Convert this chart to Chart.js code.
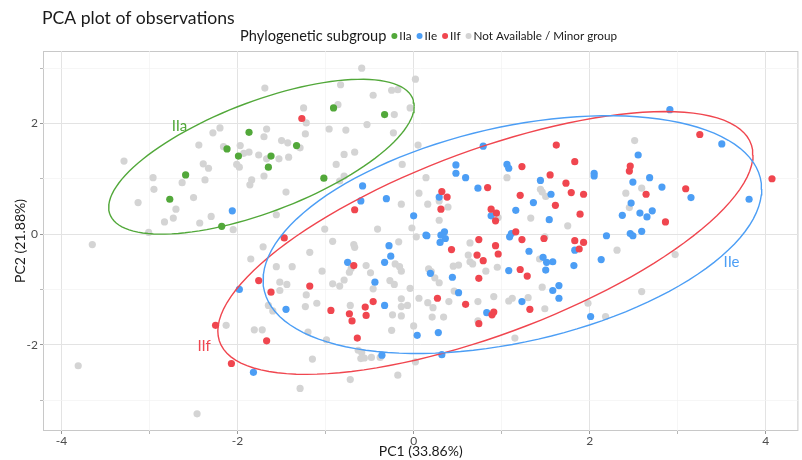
<!DOCTYPE html>
<html>
<head>
<meta charset="utf-8">
<script src="https://cdn.jsdelivr.net/npm/chart.js@4.4.0/dist/chart.umd.min.js"></script>
<style>
  html, body { margin: 0; padding: 0; background: #fff; }
  #wrap { width: 802px; height: 460px; }
</style>
</head>
<body>
<div id="wrap"><canvas id="pcaChart" width="802" height="460"></canvas></div>
<script>
// groups and colours
const groupNames = ['IIa', 'IIe', 'IIf', 'Not Available / Minor group'];
const groupColors = ['#52a83a', '#4c9ef5', '#f0464f', '#d4d4d4'];

// IIa
const iiaX = [-2.12, -1.99, -2.59, -2.77, -2.18, -0.91, -0.33, -1.87, -1.33, -1.62, -1.65, -1.02];
const iiaY = [1.54, 1.41, 1.07, 0.63, 0.14, 2.28, 2.16, 1.84, 1.60, 1.41, 1.21, 1.01];

// IIe
const iieX = [-2.06, -0.58, -0.60, -0.31, 0.00, 0.14, -0.28, -0.26, 0.79, 0.48, 0.48, 0.59, 1.06, 1.08, 2.05, 2.05, 1.44, 0.73,
  1.56, 1.36, 0.29, 0.88, 1.16, 1.54, 0.15, 0.35, 0.31, 0.36, 0.30, 1.11, 1.09, 2.19, 2.91, 3.50, 2.55, 2.68, 2.49, 2.82, 3.15, 3.81,
  2.47, 2.37, 2.57, 2.71, 2.65, 2.59, 2.46, 2.49, -1.98, -0.75, -0.33, -0.44, -1.45, -0.33, 0.04, -0.36, -1.82,
  1.31, 1.83, 1.47, 1.51, 1.58, 1.50, 1.82, 2.13, 0.19, 1.08, 0.44, 0.51, 1.65, 1.58, 1.65, 1.23, 0.83, 0.28, 2.01, 0.32];
const iieY = [0.42, 0.87, 0.60, 0.64, 0.33, -0.02, -0.21, -0.40, 1.59, 1.25, 1.10, 1.02, 1.26, 1.19, 1.10, 1.05, 0.97, 0.83,
  0.72, 0.57, 0.67, 0.33, 0.43, 0.26, -0.03, 0.04, -0.02, -0.08, -0.15, 0.01, -0.05, -0.03, 2.25, 1.63, 1.43, 1.02, 0.94, 0.85, 0.66, 0.63,
  0.56, 0.34, 0.38, 0.42, 0.31, 0.05, 0.01, -0.03, -1.00, -0.51, -0.51, -0.87, -1.36, -1.29, -1.83, -2.19, -2.50,
  -0.31, -0.29, -0.42, -0.51, -0.50, -0.65, -0.57, -0.46, -0.71, -0.66, -0.78, -1.06, -0.93, -1.02, -1.16, -1.22, -1.42, -1.78, -1.49, -2.18];

// IIf
const iifX = [-1.27, -0.67, -1.47, 1.62, 1.83, 1.23, 1.55, 1.73, 0.84, 1.79, 1.93, 1.21, 1.61,
  0.32, 0.38, 0.31, 0.88, 0.94, 0.93, 1.89, 0.74, 0.93, 1.16, 1.23, 1.48, 1.83, 1.93,
  3.25, 2.46, 2.45, 4.07, 2.64, 3.09, 2.86,
  -2.25, -2.07, -0.68, -1.76, -1.62, -1.18, -0.94, -0.73, -0.70, -0.55, -0.46, -0.54, -1.67, -0.64,
  0.43, 0.96, 1.88, 0.72, 0.79, 1.21, 1.29, 0.74, 0.27, 0.59, 1.32, 0.89, 0.91, 0.74];
const iifY = [2.09, 0.44, -0.07, 1.61, 1.31, 1.22, 1.07, 0.92, 0.84, 0.75, 0.72, 0.70, 0.52,
  0.77, 0.67, 0.45, 0.45, 0.38, 0.24, 0.36, -0.10, -0.21, 0.04, -0.10, -0.08, -0.12, -0.15,
  1.80, 1.23, 1.14, 1.00, 0.72, 0.82, 0.22,
  -1.65, -2.34, -0.57, -0.84, -1.05, -0.94, -1.38, -1.44, -1.57, -1.32, -1.22, -1.47, -1.93, -1.88,
  -0.28, -0.36, -0.27, -0.38, -0.48, -0.64, -0.76, -0.80, -1.16, -1.27, -1.36, -1.46, -1.41, -1.62];

// Not available / minor group
const naX = [-3.29, -2.20, -2.28, -2.44, -2.16, -2.01, -1.98, -2.39, -2.33, -2.96, -2.63, -2.37, -2.95, -3.13, -2.50, -2.70, -2.73, -2.83, -2.43, -2.30, -2.05, -3.01, -3.65,
  -0.59, 0.02, -1.69, -0.83, -0.25, -0.18, -0.46, -0.86, -1.25, -0.04, -0.22, -1.22, -0.53, -1.67, -1.70, -1.23, -0.96, -0.77, -0.23, -1.97,
  -1.50, -1.43, -1.29, -1.87, -1.93, -1.76, -1.67, -1.53, -1.42, -0.79, -0.67, 0.05, -0.88, -0.13, -1.70, -1.84, -1.86, 0.14, -0.79, -0.84,
  -1.45, -0.14, 0.06, -1.56, -0.41, -0.02, -1.01, 0.03, -0.92, -0.68, -0.67, -0.17,
  1.06, 1.44, 1.46, 1.50, 0.29, 0.16, 0.39, 0.29, 0.96, 1.33, 1.75, 0.64, 1.49,
  2.51, 2.41, 2.59, 2.45,
  -2.13, -3.81, -2.46,
  -1.71, -1.18, -1.85, -1.56, -1.38, -0.71, -0.73, -0.54, -0.49, -0.21, -0.16, -0.14, -1.04, -1.52, -1.44, -1.52, -0.92, -0.79, -0.84, -0.27,
  -0.22, -0.46, -0.04, -1.22, -1.65, -1.60, -1.23, -1.10, -0.72, -0.24, -0.14, -0.14, -0.07, -0.14, 0.06, -1.81, -1.72, -1.20, -0.99, -0.25,
  0.00, -0.63, -0.59, -0.60, -0.56, -0.48, -0.38, -1.15, 0.02, -0.72, -0.18, -1.29,
  0.62, 0.64, 0.67, 0.45, 0.51, 0.17, 0.20, 0.82, 0.95, 1.43, 2.31, 0.24, 0.29, 0.46, 1.46, 0.16, 0.22, 0.40, 0.73, 0.91,
  1.08, 1.12, 1.30, 1.49, 0.21, 0.34, 0.73, 1.98, 2.18, 1.15, 2.97, 2.59];
const naY = [1.32, 1.92, 1.83, 1.61, 1.58, 1.26, 1.21, 1.27, 1.19, 1.02, 0.93, 0.98, 0.81, 0.57, 0.66, 0.45, 0.29, 0.22, 0.20, 0.32, 0.08, 0.03, -0.19,
  3.00, 2.80, 2.64, 2.70, 2.60, 2.61, 2.51, 2.34, 2.28, 2.28, 2.16, 2.01, 1.98, 1.90, 1.76, 1.81, 1.90, 1.88, 1.83, 1.60,
  1.69, 1.65, 1.56, 1.48, 1.46, 1.43, 1.36, 1.36, 1.39, 1.44, 1.48, 1.61, 1.26, 1.26, 1.05, 0.98, 0.89, 1.02, 1.05, 0.96,
  0.76, 0.54, 0.74, 0.35, 0.09, 0.11, 0.09, -0.05, -0.13, -0.19, -0.24, -0.14,
  1.02, 0.81, 0.76, 0.68, 0.60, 0.54, 0.49, 0.25, 0.30, 0.29, 0.15, -0.16, -0.05,
  1.69, 0.74, 0.83, 0.48,
  -1.65, -2.38, -3.25,
  -0.23, -0.33, -0.45, -0.59, -0.59, -0.62, -0.69, -0.57, -0.70, -0.54, -0.59, -0.67, -0.67, -0.87, -0.91, -1.02, -0.90, -0.83, -0.94, -0.84,
  -0.91, -0.99, -0.98, -1.10, -1.29, -1.39, -1.31, -1.25, -1.29, -1.46, -1.17, -1.31, -1.29, -1.48, -1.16, -1.73, -1.73, -1.77, -1.91, -1.74,
  -1.66, -2.10, -2.14, -2.25, -2.24, -2.23, -2.23, -2.26, -2.31, -2.63, -2.55, -2.79,
  -0.38, -0.50, -0.54, -0.58, -0.56, -0.63, -0.68, -0.67, -0.60, -0.45, -0.29, -0.79, -0.88, -1.03, -0.96, -1.24, -1.33, -1.22, -1.22, -1.13,
  -1.21, -1.16, -1.15, -1.35, -1.50, -1.50, -1.57, -1.25, -1.49, -1.88, -0.37, -1.04];

// ellipse labels (data coords)
const ellipseLabels = ['IIa', 'IIe', 'IIf'];
const ellipseLabelX = [-2.66, 3.61, -2.38];
const ellipseLabelY = [1.95, -0.51, -2.02];

const xTicks = [-4, -2, 0, 2, 4];
const yTicks = [-2, 0, 2];

function toPoints(xs, ys) {
  return xs.map((x, i) => ({ x: x, y: ys[i] }));
}

// robust multivariate-t location/scatter (same idea as MASS::cov.trob, nu = 5)
function covTrob(xs, ys) {
  const n = xs.length, p = 2, nu = 5;
  let lx = xs.reduce((a, b) => a + b, 0) / n;
  let ly = ys.reduce((a, b) => a + b, 0) / n;
  let w = new Array(n).fill(1);
  let dx = [], dy = [];
  for (let iter = 0; iter < 25; iter++) {
    const w0 = w.slice();
    dx = xs.map(v => v - lx);
    dy = ys.map(v => v - ly);
    const sw = w.reduce((a, b) => a + b, 0);
    let a = 0, b = 0, c = 0;
    for (let i = 0; i < n; i++) {
      a += w[i] * dx[i] * dx[i];
      b += w[i] * dx[i] * dy[i];
      c += w[i] * dy[i] * dy[i];
    }
    a /= sw; b /= sw; c /= sw;
    const det = a * c - b * b;
    w = dx.map((_, i) => (nu + p) / (nu + (c * dx[i] * dx[i] - 2 * b * dx[i] * dy[i] + a * dy[i] * dy[i]) / det));
    const sw2 = w.reduce((s, v) => s + v, 0);
    lx = xs.reduce((s, v, i) => s + w[i] * v, 0) / sw2;
    ly = ys.reduce((s, v, i) => s + w[i] * v, 0) / sw2;
    if (w.every((v, i) => Math.abs(v - w0[i]) < 0.01)) break;
  }
  let sxx = 0, sxy = 0, syy = 0;
  for (let i = 0; i < n; i++) {
    sxx += w[i] * dx[i] * dx[i];
    sxy += w[i] * dx[i] * dy[i];
    syy += w[i] * dy[i] * dy[i];
  }
  return { cx: lx, cy: ly, sxx: sxx / n, sxy: sxy / n, syy: syy / n };
}

// 95% t-ellipse, like stat_ellipse(type = "t")
function ellipsePoints(xs, ys) {
  const v = covTrob(xs, ys);
  const d2 = xs.length - 1;
  const qf = (d2 / 2) * (Math.pow(0.05, -2 / d2) - 1); // F(0.95; 2, n-1)
  const r = Math.sqrt(2 * qf);
  const a = Math.sqrt(v.sxx), b = v.sxy / a, c = Math.sqrt(v.syy - b * b);
  const pts = [];
  for (let k = 0; k <= 120; k++) {
    const t = 2 * Math.PI * k / 120;
    const u = Math.cos(t), s = Math.sin(t);
    pts.push({ x: v.cx + r * a * u, y: v.cy + r * (b * u + c * s) });
  }
  return pts;
}

const font = 'Lato, "Open Sans", sans-serif';

function pointSet(label, xs, ys, color, order) {
  return {
    type: 'scatter', label: label, data: toPoints(xs, ys),
    backgroundColor: color, borderColor: color, borderWidth: 0,
    pointRadius: 3.6, pointHoverRadius: 3.6, order: order
  };
}
function ellipseSet(label, xs, ys, color) {
  return {
    type: 'line', label: label + ' ellipse', data: ellipsePoints(xs, ys),
    borderColor: color, borderWidth: 1.4, pointRadius: 0, fill: false,
    tension: 0, order: 0
  };
}

// title, legend, panel border and ellipse names
const decorPlugin = {
  id: 'decor',
  beforeDraw(chart) {
    const ctx = chart.ctx, a = chart.chartArea;
    ctx.save();
    ctx.strokeStyle = '#c8c8c8';
    ctx.lineWidth = 1;
    ctx.strokeRect(a.left + 0.5, a.top + 0.5, a.right - a.left - 1, a.bottom - a.top - 1);
    ctx.restore();
  },
  afterDraw(chart) {
    const ctx = chart.ctx;
    ctx.save();
    ctx.fillStyle = '#1a1a1a';
    ctx.font = '17.6px ' + font;
    ctx.textBaseline = 'middle';
    ctx.textAlign = 'left';
    ctx.fillText('PCA plot of observations', 42, 18);

    // legend row
    const legTitle = 'Phylogenetic subgroup';
    ctx.font = '14.6px ' + font;
    const tW = ctx.measureText(legTitle).width;
    ctx.font = '11.7px ' + font;
    const itemW = groupNames.map(g => ctx.measureText(g).width);
    const dotW = 8, gap = 4;
    let total = tW + gap;
    itemW.forEach(w => { total += dotW + 1 + w + gap; });
    let x = 240;
    const y = 36;
    ctx.fillStyle = '#1a1a1a';
    ctx.font = '14.6px ' + font;
    ctx.fillText(legTitle, x, y);
    x += tW + gap;
    ctx.font = '11.7px ' + font;
    groupNames.forEach((g, i) => {
      ctx.fillStyle = groupColors[i];
      ctx.beginPath();
      ctx.arc(x + dotW / 2, y, 3, 0, Math.PI * 2);
      ctx.fill();
      x += dotW + 1;
      ctx.fillStyle = '#1a1a1a';
      ctx.fillText(g, x, y);
      x += itemW[i] + gap;
    });

    // ellipse names
    const xs = chart.scales.x, ys = chart.scales.y;
    ctx.font = '15px ' + font;
    ctx.textAlign = 'center';
    ellipseLabels.forEach((t, i) => {
      ctx.fillStyle = groupColors[i];
      ctx.fillText(t, xs.getPixelForValue(ellipseLabelX[i]), ys.getPixelForValue(ellipseLabelY[i]));
    });
    ctx.restore();
  }
};

const gridColor = c => (c.tick && c.tick.value % 2 === 0) ? '#e3e3e3' : '#f2f2f2';
const gridWidth = c => (c.tick && c.tick.value % 2 === 0) ? 1 : 0.7;

new Chart(document.getElementById('pcaChart'), {
  type: 'scatter',
  data: {
    datasets: [
      ellipseSet('IIa', iiaX, iiaY, groupColors[0]),
      ellipseSet('IIe', iieX, iieY, groupColors[1]),
      ellipseSet('IIf', iifX, iifY, groupColors[2]),
      pointSet('IIf', iifX, iifY, groupColors[2], 1),
      pointSet('IIe', iieX, iieY, groupColors[1], 2),
      pointSet('IIa', iiaX, iiaY, groupColors[0], 3),
      pointSet('Not Available / Minor group', naX, naY, groupColors[3], 4)
    ]
  },
  options: {
    responsive: false,
    animation: false,
    layout: { padding: { top: 51, right: 1, bottom: 0, left: 0 } },
    plugins: {
      legend: { display: false },
      tooltip: { enabled: false },
      title: { display: false }
    },
    scales: {
      x: {
        type: 'linear', min: -4.21, max: 4.37,
        afterBuildTicks: s => { s.ticks = [-4, -3, -2, -1, 0, 1, 2, 3, 4].map(v => ({ value: v })); },
        afterFit: s => { s.height = 29; },
        ticks: {
          color: '#4d4d4d', font: { family: font, size: 12 }, padding: 0,
          maxRotation: 0, autoSkip: false,
          callback: v => xTicks.includes(v) ? String(v) : ''
        },
        grid: { color: gridColor, lineWidth: gridWidth, tickLength: 3, tickColor: '#999' },
        border: { display: false },
        title: { display: true, text: 'PC1 (33.86%)', color: '#1a1a1a', font: { family: font, size: 14 }, padding: { top: 0, bottom: 0 } }
      },
      y: {
        type: 'linear', min: -3.56, max: 3.31,
        afterBuildTicks: s => { s.ticks = [-3, -2, -1, 0, 1, 2, 3].map(v => ({ value: v })); },
        afterFit: s => { s.width = 43; },
        ticks: {
          color: '#4d4d4d', font: { family: font, size: 12 }, padding: 2,
          autoSkip: false,
          callback: v => yTicks.includes(v) ? String(v) : ''
        },
        grid: { color: gridColor, lineWidth: gridWidth, tickLength: 3, tickColor: '#999' },
        border: { display: false },
        title: { display: true, text: 'PC2 (21.88%)', color: '#1a1a1a', font: { family: font, size: 14 }, padding: { top: 12, bottom: 0 } }
      }
    }
  },
  plugins: [decorPlugin]
});
</script>
</body>
</html>
